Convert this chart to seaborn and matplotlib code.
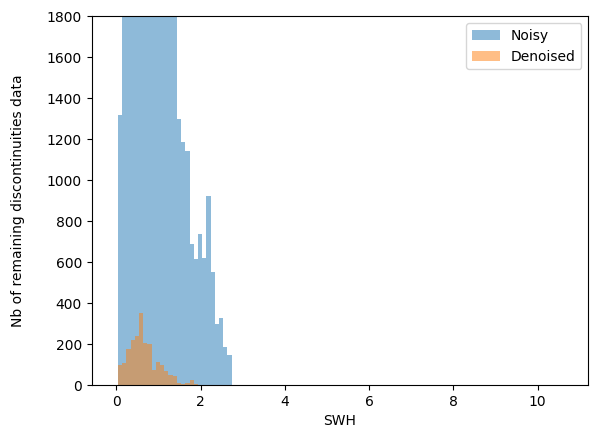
import numpy as np
import pandas as pd
import seaborn as sns
import matplotlib.pyplot as plt

# histogram counts per SWH bin (bins of 0.1 starting at 0.04)
bin_start = 0.04
bin_width = 0.1

noisy_counts = [1317, 2600, 3400, 3900, 4100, 4000, 3700, 3300, 2900, 2600, 2300,
                2050, 1900, 1850, 1297, 1185, 1141, 688, 616, 737, 619, 922,
                551, 299, 327, 185, 146]
denoised_counts = [96, 107, 174, 219, 239, 351, 205, 200, 73, 112, 96, 68,
                   49, 44, 10, 5, 10, 26, 5, 2]

def to_frame(counts):
    n = len(counts)
    centers = bin_start + bin_width * (np.arange(n) + 0.5)
    return pd.DataFrame({'SWH': centers, 'count': counts})

df_noisy = to_frame(noisy_counts)
df_denoised = to_frame(denoised_counts)
edges = (bin_start + bin_width * np.arange(len(noisy_counts) + 1)).tolist()

fig, ax = plt.subplots(figsize=(5.96, 4.38), dpi=100)
fig.subplots_adjust(left=0.154, right=0.987, bottom=0.121, top=0.963)

sns.histplot(data=df_noisy, x='SWH', weights='count', bins=edges,
             color='C0', alpha=0.5, linewidth=0, label='Noisy', ax=ax)
sns.histplot(data=df_denoised, x='SWH', weights='count', bins=edges,
             color='C1', alpha=0.5, linewidth=0, label='Denoised', ax=ax)

ax.set_xlim(-0.58, 11.2)
ax.set_ylim(0, 1800)
ax.set_xlabel('SWH')
ax.set_ylabel('Nb of remaining discontinuities data', labelpad=16)
ax.legend(loc='upper right')

plt.savefig('out.png')
